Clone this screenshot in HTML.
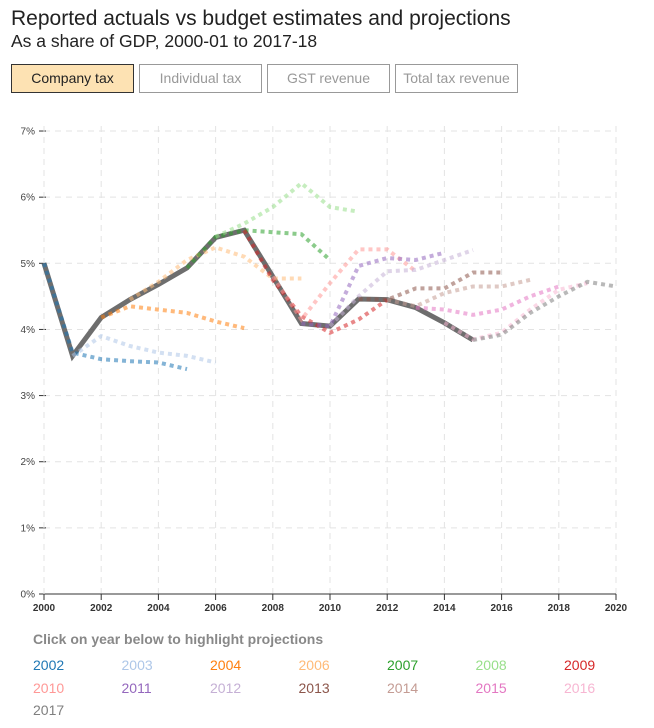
<!DOCTYPE html>
<html><head><meta charset="utf-8"><style>
body{margin:0;background:#fff;font-family:"Liberation Sans",Arial,sans-serif;width:654px;height:728px;overflow:hidden;position:relative}
h1{position:absolute;left:11px;top:7px;margin:0;font-size:21px;font-weight:normal;color:#222}
h2{position:absolute;left:11px;top:31px;margin:0;font-size:17.5px;font-weight:normal;color:#222}
.btn{position:absolute;top:64px;border:1px solid #999;color:#999;font-size:14px;line-height:27px;text-align:center;box-sizing:border-box;height:29px}
.btn.on{background:#fde2b3;border-color:#333;color:#222}
.lh{position:absolute;left:33px;top:631px;font-size:14px;font-weight:bold;color:#888}
.ly{position:absolute;font-size:14px;cursor:pointer}
svg{position:absolute;left:0;top:0}
</style></head><body>
<h1>Reported actuals vs budget estimates and projections</h1>
<h2>As a share of GDP, 2000-01 to 2017-18</h2>
<div class="btn on" style="left:11px;width:123px">Company tax</div>
<div class="btn" style="left:139px;width:123px">Individual tax</div>
<div class="btn" style="left:267px;width:123px">GST revenue</div>
<div class="btn" style="left:395px;width:123px">Total tax revenue</div>
<svg id="c" width="654" height="728"></svg>
<div class="lh">Click on year below to highlight projections</div>
<div id="leg"></div>
<script>
const actualYears=[2000,2001,2002,2003,2004,2005,2006,2007,2008,2009,2010,2011,2012,2013,2014,2015];
const actualVals=[5.0,3.6,4.18,4.45,4.68,4.93,5.39,5.5,4.8,4.09,4.05,4.46,4.45,4.33,4.1,3.84];
const budgetNames=["2002","2003","2004","2006","2007","2008","2009","2010","2011","2012","2013","2014","2015","2016","2017"];
const budgetColors=["#1f77b4","#aec7e8","#ff7f0e","#ffbb78","#2ca02c","#98df8a","#d62728","#ff9896","#9467bd","#c5b0d5","#8c564b","#c49c94","#e377c2","#f7b6d2","#7f7f7f"];
const projStart=[2000,2001,2002,2003,2005,2006,2007,2008,2009,2010,2011,2012,2013,2014,2015];
const projVals=[
[5.0,3.65,3.55,3.52,3.5,3.4],
[3.6,3.9,3.75,3.65,3.6,3.5],
[4.18,4.35,4.3,4.25,4.12,4.02],
[4.45,4.72,5.05,5.24,5.1,4.77,4.77],
[4.93,5.4,5.5,5.47,5.44,5.05],
[5.4,5.6,5.85,6.21,5.85,5.78],
[5.5,4.75,4.2,3.95,4.15,4.45],
[4.8,4.15,4.7,5.21,5.21,4.88],
[4.09,4.05,4.96,5.08,5.05,5.16],
[4.05,4.5,4.88,4.9,5.05,5.2],
[4.46,4.45,4.62,4.62,4.86,4.86],
[4.45,4.35,4.55,4.65,4.65,4.75],
[4.33,4.3,4.22,4.3,4.5,4.65],
[4.1,3.85,3.95,4.3,4.6,4.7],
[3.84,3.92,4.25,4.5,4.72,4.65]];
const yTicks=[0,1,2,3,4,5,6,7];
const xTicks=[2000,2002,2004,2006,2008,2010,2012,2014,2016,2018,2020];
const NS="http://www.w3.org/2000/svg";
const svg=document.getElementById('c');
const X=v=>44+(v-2000)*28.6;
const Y=v=>594-v*66.14;
function mk(t,a){const e=document.createElementNS(NS,t);for(const k in a)e.setAttribute(k,a[k]);svg.appendChild(e);return e;}
yTicks.forEach(t=>{
 if(t>0){const g=mk('line',{x1:44,x2:616,y1:Y(t),y2:Y(t),stroke:'#e3e3e3','stroke-dasharray':'6,5'});
 }
 const tk=mk('line',{x1:39,x2:46,y1:Y(t),y2:Y(t),stroke:'#333'});
 
 const l=mk('text',{x:35,y:Y(t)+3.5,'text-anchor':'end','font-size':10,fill:'#444'});l.textContent=t+'%';
 
});
xTicks.forEach(t=>{
 if(t>2000){const g=mk('line',{x1:X(t),x2:X(t),y1:Y(7)-5,y2:594,stroke:'#e3e3e3','stroke-dasharray':'6,5'});
 }
 const tk=mk('line',{x1:X(t),x2:X(t),y1:594,y2:600,stroke:'#333'});
 
 const l=mk('text',{x:X(t),y:611,'text-anchor':'middle','font-size':10,'font-weight':'bold',fill:'#333'});l.textContent=t;
 
});
const ax=mk('line',{x1:44,x2:616,y1:594,y2:594,stroke:'#333'});

const ay=mk('line',{x1:44,x2:44,y1:Y(7)-5,y2:594,stroke:'#e3e3e3','stroke-dasharray':'6,5'});

const act=mk('polyline',{points:actualVals.map((v,i)=>X(actualYears[i])+','+Y(v)).join(' '),fill:'none',stroke:'#555','stroke-opacity':0.85,'stroke-width':5,'stroke-linejoin':'miter'});

projVals.forEach((vals,s)=>{
 const p=mk('polyline',{points:vals.map((v,i)=>X(projStart[s]+i)+','+Y(v)).join(' '),fill:'none',stroke:budgetColors[s],'stroke-width':4,'stroke-dasharray':'4,4','stroke-opacity':0.55});
 
});
const leg=document.getElementById('leg');
budgetNames.forEach((n,i)=>{
 const d=document.createElement('div');d.className='ly';
 d.style.left=(33+(i%7)*88.5)+'px';d.style.top=(657+Math.floor(i/7)*22.5)+'px';
 d.style.color=budgetColors[i];d.textContent=n;
 
 
 leg.appendChild(d);
});
</script>
</body></html>
